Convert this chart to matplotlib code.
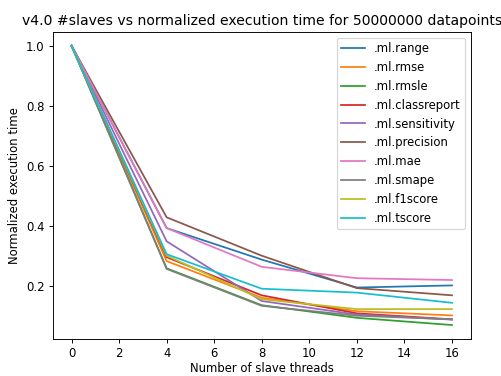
import numpy as np
import matplotlib
matplotlib.use("Agg")
import matplotlib.pyplot as plt

threads = [0, 4, 8, 12, 16]

ml_range = [1.0, 0.392, 0.287, 0.194, 0.201]
ml_rmse = [1.0, 0.282, 0.160, 0.115, 0.101]
ml_rmsle = [1.0, 0.258, 0.135, 0.093, 0.069]
ml_classreport = [1.0, 0.295, 0.168, 0.108, 0.088]
ml_sensitivity = [1.0, 0.348, 0.149, 0.104, 0.087]
ml_precision = [1.0, 0.428, 0.300, 0.192, 0.168]
ml_mae = [1.0, 0.392, 0.263, 0.225, 0.219]
ml_smape = [1.0, 0.256, 0.133, 0.100, 0.088]
ml_f1score = [1.0, 0.300, 0.155, 0.122, 0.122]
ml_tscore = [1.0, 0.305, 0.190, 0.177, 0.143]

series = [
    (".ml.range", ml_range),
    (".ml.rmse", ml_rmse),
    (".ml.rmsle", ml_rmsle),
    (".ml.classreport", ml_classreport),
    (".ml.sensitivity", ml_sensitivity),
    (".ml.precision", ml_precision),
    (".ml.mae", ml_mae),
    (".ml.smape", ml_smape),
    (".ml.f1score", ml_f1score),
    (".ml.tscore", ml_tscore),
]

dpi = 84
fig = plt.figure(figsize=(501 / dpi, 376 / dpi), dpi=dpi)
ax = fig.add_axes([52.5 / 501, 1 - 339 / 376, (471 - 52.5) / 501, (339 - 31.7) / 376])

for name, vals in series:
    ax.plot(threads, vals, label=name)

ax.set_xticks(np.arange(0, 17, 2))
ax.set_title("v4.0 #slaves vs normalized execution time for 50000000 datapoints")
ax.set_xlabel("Number of slave threads", labelpad=1.5)
ax.set_ylabel("Normalized execution time")
ax.legend(loc="best")

fig.savefig("out.png", dpi=dpi)
